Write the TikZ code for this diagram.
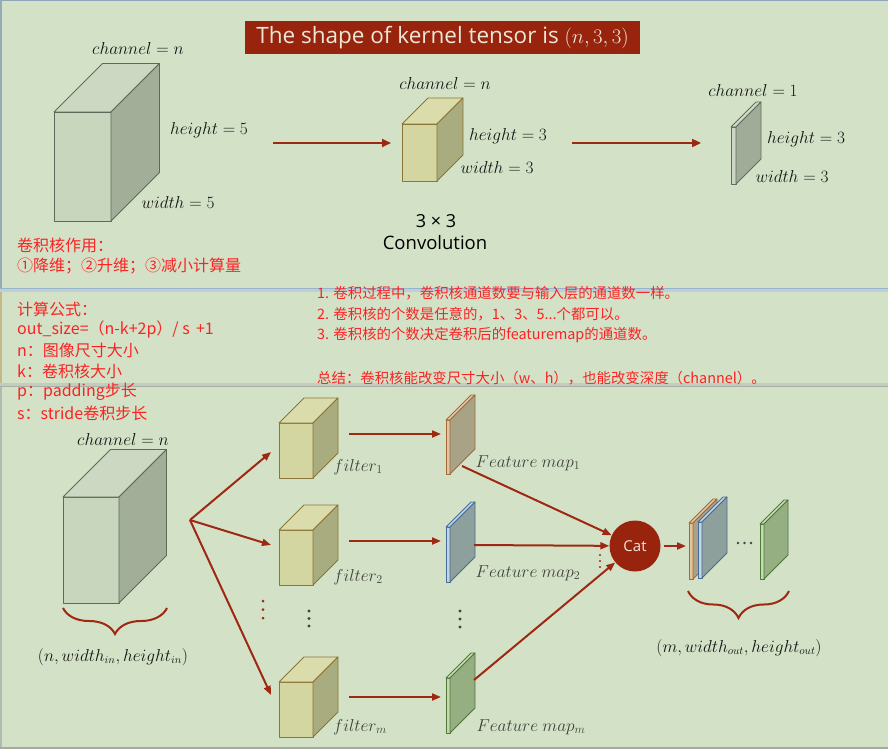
\documentclass[tikz,border=0pt]{standalone}
\usepackage{fontspec}
\setmainfont{Open Sans}
\newfontfamily\cjk{Noto Sans CJK SC}
\usetikzlibrary{arrows.meta,decorations.pathreplacing}

\definecolor{bg}{RGB}{211,226,199}
\definecolor{titlered}{RGB}{152,36,14}
\definecolor{titletext}{RGB}{235,232,215}
\definecolor{arrowred}{RGB}{158,40,18}
\definecolor{catred}{RGB}{152,36,14}
\definecolor{notered}{RGB}{250,35,35}
\definecolor{labelgray}{RGB}{65,65,60}
\definecolor{labelblack}{RGB}{20,20,20}
% gray cube
\definecolor{gcfront}{RGB}{200,214,190}
\definecolor{gcside}{RGB}{162,174,152}
\definecolor{gctop}{RGB}{204,216,194}
\definecolor{gcedge}{RGB}{95,105,90}
% yellow cube
\definecolor{ycfront}{RGB}{212,214,162}
\definecolor{ycside}{RGB}{168,172,126}
\definecolor{yctop}{RGB}{218,220,172}
\definecolor{ycedge}{RGB}{140,118,55}
% gray plate
\definecolor{pgfront}{RGB}{205,214,196}
\definecolor{pgside}{RGB}{160,172,152}
\definecolor{pgtop}{RGB}{208,218,200}
\definecolor{pgedge}{RGB}{100,108,95}
% tan plate
\definecolor{tnfront}{RGB}{228,196,158}
\definecolor{tnside}{RGB}{168,163,135}
\definecolor{tntop}{RGB}{226,200,166}
\definecolor{tnedge}{RGB}{165,105,55}
% blue plate
\definecolor{blfront}{RGB}{190,212,232}
\definecolor{blside}{RGB}{142,160,155}
\definecolor{bltop}{RGB}{195,215,232}
\definecolor{bledge}{RGB}{70,108,150}
% green plate
\definecolor{gnfront}{RGB}{192,222,172}
\definecolor{gnside}{RGB}{150,175,130}
\definecolor{gntop}{RGB}{196,225,176}
\definecolor{gnedge}{RGB}{80,118,58}

\newcommand\cuboid[6]{%
  \draw[draw=#6edge,fill=#6front,line width=0.8pt,line join=round] (#1,#2) rectangle ++(#3,#4);
  \draw[draw=#6edge,fill=#6top,line width=0.8pt,line join=round] (#1,#2) -- ++(#5,-#5) -- ++(#3,0) -- ++(-#5,#5) -- cycle;
  \draw[draw=#6edge,fill=#6side,line width=0.8pt,line join=round] ({#1+#3},#2) -- ++(#5,-#5) -- ++(0,#4) -- ++(-#5,#5) -- cycle;
}

\tikzset{
  lbl/.style={font=\fontsize{16}{18}\selectfont, inner sep=0pt, text=labelblack},
  glbl/.style={font=\fontsize{16.5}{18}\selectfont, inner sep=0pt, text=labelgray},
  note/.style={font=\cjk\fontsize{14.4}{16}\selectfont, text=notered, inner sep=0pt, anchor=west},
  leftnote/.style={note, font=\cjk\fontsize{16}{18}\selectfont},
  arr/.style={draw=arrowred, line width=2pt, -{Triangle[length=9pt,width=7pt]}},
  bigarr/.style={draw=arrowred, line width=2.5pt, -{Triangle[length=9pt,width=8pt]}},
  bracestyle/.style={draw=arrowred, line width=2pt, decorate},
}

\begin{document}
\begin{tikzpicture}[x=1pt,y=-1pt]
\fill[bg] (0,0) rectangle (888,749);
\useasboundingbox (0,0) rectangle (888,749);

% screenshot borders / separators
\draw[color={rgb,255:red,140;green,165;blue,185}, line width=1.2pt] (0,0.6) -- (888,0.6);
\draw[color={rgb,255:red,150;green,170;blue,185}, line width=1.5pt] (1,0) -- (1,288);
\draw[color={rgb,255:red,195;green,185;blue,135}, line width=1.5pt] (1,288) -- (1,387);
\draw[color={rgb,255:red,180;green,185;blue,175}, line width=1.5pt] (1,387) -- (1,749);
\draw[color={rgb,255:red,190;green,208;blue,212}, line width=3pt] (0,290) -- (888,290);
\draw[color={rgb,255:red,150;green,180;blue,205}, line width=1.2pt] (0,288.5) -- (888,288.5);
\draw[color={rgb,255:red,195;green,205;blue,190}, line width=3pt] (0,384) -- (888,384);
\draw[color={rgb,255:red,170;green,175;blue,165}, line width=1.5pt] (0,386.5) -- (888,386.5);
\draw[color={rgb,255:red,165;green,170;blue,160}, line width=2pt] (0,748) -- (888,748);

% title
\node[fill=titlered, text=titletext, minimum width=395pt, minimum height=33pt, inner sep=0pt,
      font=\fontsize{22.5}{26}\selectfont] (title) at (442.5,37.5) {The shape of kernel tensor is $(n,3,3)$};

% top row
\cuboid{54}{112}{57}{109}{48.5}{gc}
\node[lbl] (tch) at (138,49) {$channel=n$};
\node[lbl] (th5) at (209,130) {$height=5$};
\node[lbl] (tw5) at (178,202) {$width=5$};

\coordinate (a1s) at (273,143);
\coordinate (a1e) at (391,143);
\draw[bigarr] (a1s) -- (a1e);

\cuboid{402}{124}{35}{57}{26}{yc}
\node[lbl] (kch) at (445,84) {$channel=n$};
\node[lbl] (kh3) at (508,136) {$height=3$};
\node[lbl] (kw3) at (497,167) {$width=3$};
\node[font=\fontsize{18}{20}\selectfont, inner sep=0pt] (k33) at (436,221) {3 × 3};
\node[font=\fontsize{18.5}{20}\selectfont, inner sep=0pt] (conv) at (435,243) {Convolution};

\coordinate (a2s) at (572,143);
\coordinate (a2e) at (701,143);
\draw[bigarr] (a2s) -- (a2e);

\cuboid{731}{127}{5}{57}{25}{pg}
\node[lbl] (pch) at (753,91) {$channel=1$};
\node[lbl] (ph3) at (806,139) {$height=3$};
\node[lbl] (pw3) at (792,176) {$width=3$};

% red notes left
\node[leftnote] (n1) at (17,245) {卷积核作用：};
\node[leftnote] (n2) at (17,266) {①降维；②升维；③减小计算量};
\node[leftnote] (n3) at (17,309) {计算公式：};
\node[leftnote] (n4) at (17,329) {out\_size=（n-k+2p）/ s \,+1};
\node[leftnote] (n5) at (17,350) {n：图像尺寸大小};
\node[leftnote] (n6) at (17,371) {k：卷积核大小};
\node[leftnote] (n7) at (17,392) {p：padding步长};
\node[leftnote] (n8) at (17,413) {s：stride卷积步长};

% red notes right
\node[note] (r1) at (317,293) {1. 卷积过程中，卷积核通道数要与输入层的通道数一样。};
\node[note] (r2) at (317,314) {2. 卷积核的个数是任意的，1、3、5...个都可以。};
\node[note] (r3) at (317,335) {3. 卷积核的个数决定卷积后的featuremap的通道数。};
\node[note] (r4) at (317,378) {总结：卷积核能改变尺寸大小（w、h），也能改变深度（channel）。};

% bottom: input cube
\cuboid{63}{497}{56}{106}{47.5}{gc}
\node[lbl] (bch) at (123,439) {$channel=n$};
\draw[bracestyle, decoration={brace, amplitude=26pt, aspect=0.5}] (167,608) -- (63,608);
\node[lbl] (inlbl) at (113,657) {$(n,width_{in},height_{in})$};

% fan arrows
\coordinate (fan) at (190,520);
\coordinate (f1in) at (271,452);
\coordinate (f2in) at (271,545);
\coordinate (fmin) at (271,695);
\draw[arr] (fan) -- (f1in);
\draw[arr] (fan) -- (f2in);
\draw[arr] (fan) -- (fmin);
\foreach \yy in {601,609.5,618} \fill[arrowred] (263,\yy) circle (1.5pt);

% filters
\cuboid{279}{423}{34}{55}{25}{yc}
\cuboid{279}{530}{34}{55}{25}{yc}
\cuboid{279}{682}{34}{55}{25}{yc}
\node[glbl] (fl1) at (358,467) {$filter_1$};
\node[glbl] (fl2) at (358,577) {$filter_2$};
\node[glbl] (flm) at (360,727) {$filter_m$};
\foreach \yy in {611,618.5,626} \fill[labelgray] (309,\yy) circle (1.7pt);

\coordinate (f1o) at (349,434);
\coordinate (m1i) at (441,434);
\coordinate (f2o) at (349,541);
\coordinate (m2i) at (441,541);
\coordinate (fmo) at (349,697);
\coordinate (mmi) at (441,697);
\draw[arr] (f1o) -- (m1i);
\draw[arr] (f2o) -- (m2i);
\draw[arr] (fmo) -- (mmi);

% feature maps
\cuboid{446}{420}{4}{54}{25}{tn}
\cuboid{446}{527}{4}{55}{25}{bl}
\cuboid{446}{678}{4}{55}{25}{gn}
\node[glbl] (fm1) at (528,463) {$Feature\ map_1$};
\node[glbl] (fm2) at (528,573) {$Feature\ map_2$};
\node[glbl] (fmm) at (531,727) {$Feature\ map_m$};
\foreach \yy in {611,619,627} \fill[labelgray] (460,\yy) circle (1.7pt);

% cat
\node[circle, fill=catred, text=titletext, minimum size=51pt, inner sep=0pt,
      font=\fontsize{15}{17}\selectfont] (cat) at (635,546) {Cat};
\coordinate (m1o) at (462,466);
\coordinate (m2o) at (474,545);
\coordinate (mmo) at (474,680);
\draw[arr] (m1o) -- (cat);
\draw[arr] (m2o) -- (cat);
\draw[arr] (mmo) -- (cat);
\foreach \yy in {555,561,567} \fill[arrowred] (600,\yy) circle (1.1pt);

\coordinate (stackin) at (686,546);
\draw[arr, shorten <=3pt] (cat) -- (stackin);

% output stack
\cuboid{689}{523}{4}{56}{24}{tn}
\cuboid{698}{522}{4}{56}{25}{bl}
\cuboid{760}{524}{4}{55}{24}{gn}
\foreach \xx in {738,744.5,751} \fill[labelblack!80] (\xx,543) circle (1.3pt);
\draw[bracestyle, decoration={brace, amplitude=27pt, aspect=0.5}] (789,591) -- (688,591);
\node[lbl] (outlbl) at (739,648) {$(m,width_{out},height_{out})$};

\end{tikzpicture}
\end{document}
